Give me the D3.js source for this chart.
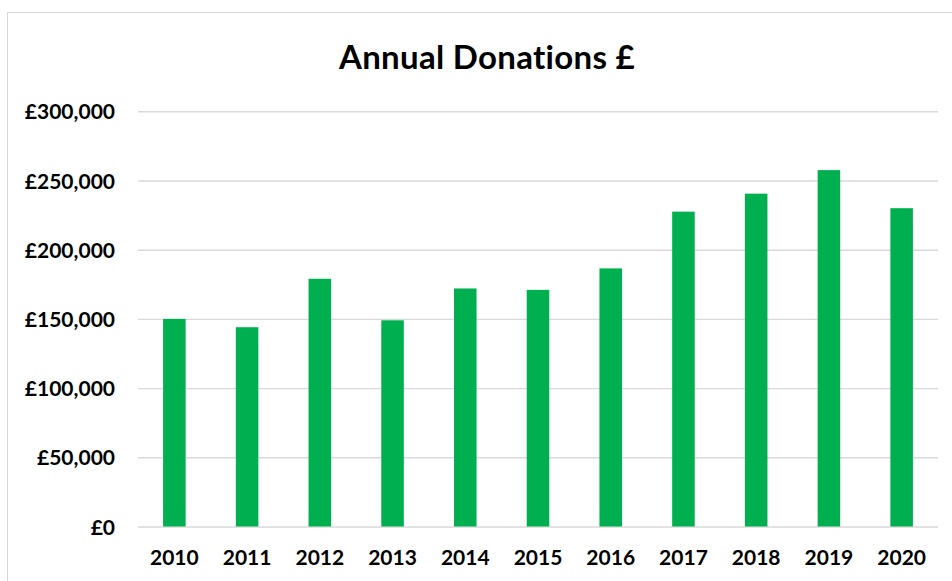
<!DOCTYPE html>
<html>
<head>
<meta charset="utf-8">
<script src="https://cdn.jsdelivr.net/npm/d3@7"></script>
<style>
  html, body { margin: 0; padding: 0; background: #fff; }
  svg { display: block; }
  text { font-family: Lato, "Open Sans", sans-serif; font-weight: bold; fill: #000; }
</style>
</head>
<body>
<svg id="chart" width="952" height="581"></svg>
<script>
// Annual donations by year (£)
const years = ["2010", "2011", "2012", "2013", "2014", "2015", "2016", "2017", "2018", "2019", "2020"];
const donations = [150000, 144000, 179000, 149000, 172000, 171000, 186500, 227500, 240500, 257500, 230000];
const yTicks = [0, 50000, 100000, 150000, 200000, 250000, 300000];
const chartTitle = "Annual Donations £";

const svg = d3.select("#chart");
const W = 952, H = 581;
const plot = { left: 138, right: 938, top: 111.3, bottom: 526.5 };

// Chart frame
svg.append("rect")
  .attr("x", 7.5).attr("y", 12.5)
  .attr("width", W + 20).attr("height", H + 20)
  .attr("fill", "#fff")
  .attr("stroke", "#d9d9d9").attr("stroke-width", 1);

const x = d3.scaleBand()
  .domain(years)
  .range([plot.left, plot.right])
  .paddingInner(0.69)
  .paddingOuter(0.345);

const y = d3.scaleLinear()
  .domain([0, 300000])
  .range([plot.bottom, plot.top]);

const gbp = v => "£" + d3.format(",")(v);

// Horizontal gridlines and value labels
const yAxis = d3.axisLeft(y)
  .tickValues(yTicks)
  .tickFormat(gbp)
  .tickSize(-(plot.right - plot.left))
  .tickPadding(23);

const gy = svg.append("g")
  .attr("transform", `translate(${plot.left},0)`)
  .call(yAxis);
gy.select(".domain").remove();
gy.selectAll(".tick line").attr("stroke", "#d9d9d9").attr("stroke-width", 1.4);
gy.selectAll(".tick text")
  .attr("font-size", 21)
  .attr("dy", "0.36em")
  .style("font-family", "Lato, 'Open Sans', sans-serif")
  .style("font-weight", "bold")
  .attr("fill", "#000");

// Bars
svg.append("g")
  .selectAll("rect")
  .data(donations)
  .join("rect")
  .attr("x", (d, i) => x(years[i]))
  .attr("y", d => y(d))
  .attr("width", x.bandwidth())
  .attr("height", d => y(0) - y(d))
  .attr("fill", "#00b050");

// Year labels
const xAxis = d3.axisBottom(x).tickSize(0).tickPadding(0);
const gx = svg.append("g")
  .attr("transform", `translate(0,${plot.bottom})`)
  .call(xAxis);
gx.select(".domain").remove();
gx.selectAll(".tick text")
  .attr("y", 38.5)
  .attr("dy", 0)
  .attr("font-size", 21)
  .style("font-family", "Lato, 'Open Sans', sans-serif")
  .style("font-weight", "bold")
  .attr("fill", "#000");

// Title
svg.append("text")
  .attr("x", 487)
  .attr("y", 69)
  .attr("text-anchor", "middle")
  .attr("font-size", 33)
  .style("letter-spacing", "0.3px")
  .text(chartTitle);
</script>
</body>
</html>
